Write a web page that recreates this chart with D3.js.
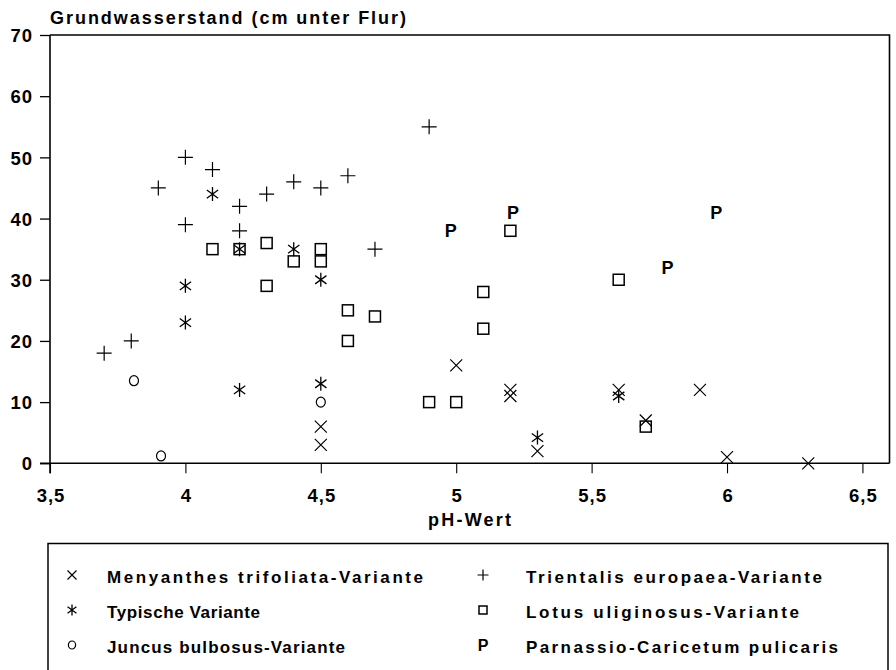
<!DOCTYPE html>
<html>
<head>
<meta charset="utf-8">
<script src="https://cdn.jsdelivr.net/npm/d3@7"></script>
<style>
  html, body { margin: 0; padding: 0; background: #fff; }
  svg { display: block; }
  text { font-family: "Liberation Sans", Arial, Helvetica, sans-serif; font-weight: bold; fill: #000; }
</style>
</head>
<body>
<svg id="chart" width="896" height="670"></svg>
<script>
// ---- Data (pH-Wert, Grundwasserstand cm unter Flur) ----
const menyanthes = [[4.5,6],[4.5,3],[5.0,16],[5.2,12],[5.2,11],[5.3,2],[5.6,12],[5.7,7],[5.9,12],[6.0,1],[6.3,0]];
const typische   = [[4.0,29],[4.0,23],[4.1,44],[4.2,35],[4.2,12],[4.4,35],[4.5,30],[4.5,13],[5.3,4.2],[5.6,11]];
const juncus     = [[3.81,13.5],[3.91,1.2],[4.5,10]];
const trientalis = [[3.7,18],[3.8,20],[3.9,45],[4.0,50],[4.0,39],[4.1,48],[4.2,42],[4.2,38],[4.3,44],[4.4,46],[4.5,45],[4.6,47],[4.7,35],[4.9,55]];
const lotus      = [[4.1,35],[4.2,35],[4.3,36],[4.3,29],[4.4,33],[4.5,35],[4.5,33],[4.6,25],[4.6,20],[4.7,24],[4.9,10],[5.0,10],[5.1,28],[5.1,22],[5.2,38],[5.6,30],[5.7,6]];
const parnassio  = [[4.98,38],[5.21,41],[5.78,32],[5.96,41]];

const xTicks = [3.5, 4, 4.5, 5, 5.5, 6, 6.5];
const yTicks = [0, 10, 20, 30, 40, 50, 60, 70];
const xDomain = [3.5, 6.6];
const yDomain = [0, 70];

const titleText = "Grundwasserstand (cm unter Flur)";
const xLabel = "pH-Wert";

const legendLabels = {
  menyanthes: "Menyanthes trifoliata-Variante",
  trientalis: "Trientalis europaea-Variante",
  typische: "Typische Variante",
  lotus: "Lotus uliginosus-Variante",
  juncus: "Juncus bulbosus-Variante",
  parnassio: "Parnassio-Caricetum pulicaris"
};

// ---- Layout ----
const svg = d3.select("#chart");
const pLeft = 50, pRight = 889.5, pTop = 35, pBottom = 463.3;
const x = d3.scaleLinear().domain(xDomain).range([pLeft, pRight]);
const y = d3.scaleLinear().domain(yDomain).range([pBottom, pTop]);
const fmt = d => String(d).replace(".", ",");

// Title
svg.append("text")
  .attr("x", 50).attr("y", 24)
  .attr("font-size", 18)
  .attr("textLength", 356).attr("lengthAdjust", "spacing")
  .text(titleText);

// Frame (top and right)
svg.append("path")
  .attr("d", `M${pLeft},${pTop}H${pRight}V${pBottom}`)
  .attr("fill", "none").attr("stroke", "#000").attr("stroke-width", 1.6);

// Axes
const yAxis = svg.append("g")
  .attr("transform", `translate(${pLeft},0)`)
  .call(d3.axisLeft(y).tickValues(yTicks).tickSize(10).tickPadding(8).tickFormat(fmt));
const xAxis = svg.append("g")
  .attr("transform", `translate(0,${pBottom})`)
  .call(d3.axisBottom(x).tickValues(xTicks).tickSize(10).tickPadding(16).tickFormat(fmt));

[yAxis, xAxis].forEach(g => {
  g.select(".domain").remove();
  g.selectAll("line").attr("stroke", "#000").attr("stroke-width", 1.3);
  g.selectAll("text")
    .attr("font-size", 18.5)
    .attr("font-family", "'Liberation Sans', Arial, sans-serif")
    .attr("font-weight", "bold")
    .style("letter-spacing", "1px")
    .attr("fill", "#000");
});
yAxis.selectAll("text").attr("x", -17).attr("dy", "0.36em");
xAxis.selectAll("text").attr("dy", "0.7em").attr("dx", "0.5px");
xAxis.selectAll(".tick line").attr("stroke-width", 1.1);

// axis lines
svg.append("line").attr("x1", pLeft).attr("x2", pLeft).attr("y1", pTop).attr("y2", pBottom + 10)
  .attr("stroke", "#000").attr("stroke-width", 1.6);
svg.append("line").attr("x1", pLeft - 10).attr("x2", pRight).attr("y1", pBottom).attr("y2", pBottom)
  .attr("stroke", "#000").attr("stroke-width", 1.6);

// x axis label
svg.append("text")
  .attr("x", 428).attr("y", 526)
  .attr("font-size", 18)
  .attr("textLength", 83).attr("lengthAdjust", "spacing")
  .text(xLabel);

// ---- Marker drawing ----
function drawMarker(g, type, s) {
  const h = s / 2;
  if (type === "cross") {
    g.append("path").attr("d", `M${-h},${-h}L${h},${h}M${-h},${h}L${h},${-h}`)
      .attr("stroke", "#000").attr("stroke-width", 1.2).attr("fill", "none");
  } else if (type === "plus") {
    g.append("path").attr("d", `M${-h},0H${h}M0,${-h}V${h}`)
      .attr("stroke", "#000").attr("stroke-width", 1.2).attr("fill", "none");
  } else if (type === "star") {
    const a = h * Math.cos(Math.PI / 5), b = h * Math.sin(Math.PI / 5);
    g.append("path").attr("d", `M0,${-h}V${h}M${-a},${-b}L${a},${b}M${-a},${b}L${a},${-b}`)
      .attr("stroke", "#000").attr("stroke-width", 1.3).attr("fill", "none");
  } else if (type === "square") {
    g.append("rect").attr("x", -h).attr("y", -h).attr("width", s).attr("height", s)
      .attr("stroke", "#000").attr("stroke-width", 1.5).attr("fill", "none");
  } else if (type === "circle") {
    g.append("ellipse").attr("rx", h * 0.9).attr("ry", h)
      .attr("stroke", "#000").attr("stroke-width", 1.2).attr("fill", "none");
  } else if (type === "P") {
    g.append("text").attr("text-anchor", "middle").attr("dy", "0.36em")
      .attr("font-size", s).text("P");
  }
}

const series = [
  { key: "trientalis", data: trientalis, type: "plus", size: 15, lsize: 11 },
  { key: "lotus", data: lotus, type: "square", size: 11, lsize: 8 },
  { key: "typische", data: typische, type: "star", size: 14, lsize: 11 },
  { key: "menyanthes", data: menyanthes, type: "cross", size: 12, lsize: 9 },
  { key: "juncus", data: juncus, type: "circle", size: 10, lsize: 8 },
  { key: "parnassio", data: parnassio, type: "P", size: 18, lsize: 16 }
];

series.forEach(sr => {
  const grp = svg.append("g").attr("class", "series-" + sr.key);
  grp.selectAll("g.pt").data(sr.data).enter().append("g")
    .attr("class", "pt")
    .attr("transform", d => `translate(${x(d[0])},${y(d[1])})`)
    .each(function () { drawMarker(d3.select(this), sr.type, sr.size); });
});

// ---- Legend ----
svg.append("path")
  .attr("d", "M48,680V543.5H888V680")
  .attr("fill", "none").attr("stroke", "#000").attr("stroke-width", 1.5);

const legendItems = [
  { key: "menyanthes", col: 0, row: 0, len: 316 },
  { key: "trientalis", col: 1, row: 0, len: 296 },
  { key: "typische", col: 0, row: 1, len: 153 },
  { key: "lotus", col: 1, row: 1, len: 273 },
  { key: "juncus", col: 0, row: 2, len: 238 },
  { key: "parnassio", col: 1, row: 2, len: 312 }
];
const colMarkerX = [72, 483], colTextX = [107, 526];
const rowY = [577, 612, 647];
legendItems.forEach(it => {
  const sr = series.find(s => s.key === it.key);
  const g = svg.append("g").attr("transform", `translate(${colMarkerX[it.col]},${rowY[it.row] - 2})`);
  drawMarker(g, sr.type, sr.lsize);
  svg.append("text")
    .attr("x", colTextX[it.col]).attr("y", rowY[it.row] + 6)
    .attr("font-size", 17)
    .attr("textLength", it.len).attr("lengthAdjust", "spacing")
    .text(legendLabels[it.key]);
});
</script>
</body>
</html>
